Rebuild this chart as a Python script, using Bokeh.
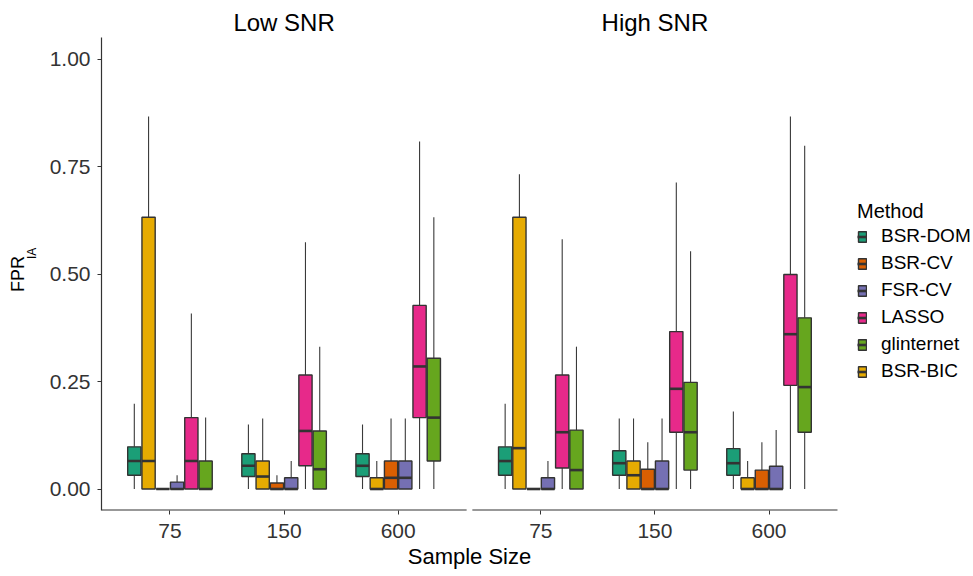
from bokeh.plotting import figure
from bokeh.models import (ColumnDataSource, Range1d, FixedTicker, LinearAxis, Legend, LegendItem)
from bokeh.embed import file_html
from bokeh.resources import INLINE

# ---------------- data ----------------
panels = ["Low SNR", "High SNR"]
sample_sizes = ["75", "150", "600"]
methods = ["BSR-DOM", "BSR-BIC", "BSR-CV", "FSR-CV", "LASSO", "glinternet"]
legend_order = ["BSR-DOM", "BSR-CV", "FSR-CV", "LASSO", "glinternet", "BSR-BIC"]
method_colors = ["#1B9E77", "#E6AB02", "#D95F02", "#7570B3", "#E7298A", "#66A61E"]

# rows: sample size 75 / 150 / 600 ; columns: methods in the order above
low_lower = [[0, 0, 0, 0, 0, 0], [0, 0, 0, 0, 0, 0], [0, 0, 0, 0, 0, 0]]
low_q1 = [[0.032, 0, 0, 0, 0, 0], [0.029, 0, 0, 0, 0.054, 0], [0.029, 0, 0, 0, 0.166, 0.065]]
low_median = [[0.065, 0.065, 0, 0, 0.065, 0], [0.054, 0.029, 0, 0, 0.135, 0.046], [0.054, 0, 0.026, 0.026, 0.285, 0.166]]
low_q3 = [[0.098, 0.632, 0, 0.016, 0.166, 0.065], [0.082, 0.065, 0.014, 0.026, 0.265, 0.135], [0.082, 0.026, 0.065, 0.065, 0.427, 0.304]]
low_upper = [[0.198, 0.866, 0, 0.032, 0.408, 0.166], [0.150, 0.164, 0.032, 0.065, 0.574, 0.331], [0.150, 0.065, 0.164, 0.164, 0.808, 0.632]]

high_lower = [[0, 0, 0, 0, 0, 0], [0, 0, 0, 0, 0, 0], [0, 0, 0, 0, 0, 0]]
high_q1 = [[0.032, 0, 0, 0, 0.049, 0], [0.032, 0, 0, 0, 0.132, 0.044], [0.032, 0, 0, 0, 0.241, 0.132]]
high_median = [[0.065, 0.095, 0, 0, 0.132, 0.044], [0.060, 0.032, 0, 0, 0.233, 0.132], [0.060, 0, 0, 0, 0.360, 0.237]]
high_q3 = [[0.098, 0.632, 0, 0.026, 0.265, 0.137], [0.089, 0.065, 0.046, 0.065, 0.366, 0.248], [0.094, 0.026, 0.044, 0.053, 0.499, 0.398]]
high_upper = [[0.198, 0.732, 0, 0.065, 0.581, 0.331], [0.164, 0.164, 0.109, 0.164, 0.713, 0.553], [0.180, 0.065, 0.109, 0.137, 0.866, 0.798]]

y_ticks = [0.0, 0.25, 0.5, 0.75, 1.0]
y_tick_labels = ["0.00", "0.25", "0.50", "0.75", "1.00"]
y_title = "FPR"
y_title_sub = "IA"
x_title = "Sample Size"
legend_title = "Method"

# ---------------- layout constants ----------------
FONT = "Liberation Sans"
DODGE = 0.125
BOX_W = 0.116
PANEL_SPAN = 3.2
PANEL_GAP = 0.05
PANEL_OFFSET = PANEL_SPAN + PANEL_GAP
X_START = 0.4
X_END = X_START + PANEL_SPAN + PANEL_GAP + PANEL_SPAN
LEGEND_SPACE = 1.192          # extra room on the right of the panels for the legend
Y_START, Y_END = -0.05, 1.05
FPR_POS = 0.500   # vertical centre of the "FPR" title
IA_POS = 0.548    # vertical centre of the subscript

stats = {
    0: (low_lower, low_q1, low_median, low_q3, low_upper),
    1: (high_lower, high_q1, high_median, high_q3, high_upper),
}

data = dict(x=[], lower=[], q1=[], median=[], q3=[], upper=[], color=[], method=[])
for pi in range(len(panels)):
    lo, a, m, b, hi = stats[pi]
    for si in range(len(sample_sizes)):
        for mi, meth in enumerate(methods):
            data["x"].append(si + 1 + pi * PANEL_OFFSET + (mi - 2.5) * DODGE)
            data["lower"].append(lo[si][mi])
            data["q1"].append(a[si][mi])
            data["median"].append(m[si][mi])
            data["q3"].append(b[si][mi])
            data["upper"].append(hi[si][mi])
            data["color"].append(method_colors[mi])
            data["method"].append(meth)
data["xl"] = [x - BOX_W / 2 for x in data["x"]]
data["xr"] = [x + BOX_W / 2 for x in data["x"]]
src = ColumnDataSource(data)

p = figure(width=973, height=576,
           x_range=Range1d(X_START, X_END + LEGEND_SPACE), y_range=Range1d(Y_START, Y_END),
           output_backend="svg", toolbar_location=None,
           min_border_left=101, min_border_right=0, min_border_top=37, min_border_bottom=66)
p.outline_line_color = None
p.xgrid.visible = False
p.ygrid.visible = False
p.background_fill_color = "white"
p.border_fill_color = "white"

# whiskers
p.segment(x0="x", x1="x", y0="q3", y1="upper", source=src, line_color="#3a3a3a", line_width=1.1)
p.segment(x0="x", x1="x", y0="lower", y1="q1", source=src, line_color="#3a3a3a", line_width=1.1)
# boxes
boxes = p.vbar(x="x", width=BOX_W, bottom="q1", top="q3", source=src,
               fill_color="color", line_color="#333333", line_width=1.4)
# medians
meds = p.segment(x0="xl", x1="xr", y0="median", y1="median", source=src,
                 line_color="#333333", line_width=2.6)

# bottom axis lines (one per panel, with a small gap between panels)
p.segment(x0=[X_START, X_START + PANEL_OFFSET], x1=[X_START + PANEL_SPAN, X_END],
          y0=[Y_START, Y_START], y1=[Y_START, Y_START], line_color="#333333", line_width=2)

# ---- bottom axis ----
xticks = [si + 1 + pi * PANEL_OFFSET for pi in range(len(panels)) for si in range(len(sample_sizes))]
p.xaxis.ticker = FixedTicker(ticks=xticks, minor_ticks=[])
p.xaxis.major_label_overrides = {t: sample_sizes[i % 3] for i, t in enumerate(xticks)}
p.xaxis.axis_line_color = None
p.xaxis.major_tick_in = 0
p.xaxis.major_tick_out = 4
p.xaxis.major_tick_line_color = "#333333"
p.xaxis.major_label_standoff = 9
p.xaxis.major_label_text_font = FONT
p.xaxis.major_label_text_font_size = "21px"
p.xaxis.major_label_text_color = "#333333"

# x title, centred under both panels
x_mid = (X_START + X_END) / 2
xtitle_axis = LinearAxis(ticker=FixedTicker(ticks=[x_mid], minor_ticks=[]),
                         major_label_overrides={x_mid: x_title},
                         axis_line_color=None, major_tick_line_color=None,
                         major_tick_in=0, major_tick_out=0, minor_tick_line_color=None,
                         major_label_standoff=3,
                         major_label_text_font=FONT, major_label_text_font_size="22px",
                         major_label_text_color="black")
p.add_layout(xtitle_axis, "below")

# ---- panel titles as a top axis ----
ptick = [2 + pi * PANEL_OFFSET for pi in range(len(panels))]
top_axis = LinearAxis(ticker=FixedTicker(ticks=ptick, minor_ticks=[]),
                      major_label_overrides={t: n for t, n in zip(ptick, panels)},
                      axis_line_color=None, major_tick_line_color=None,
                      major_tick_in=0, major_tick_out=0, minor_tick_line_color=None,
                      major_label_standoff=2,
                      major_label_text_font=FONT, major_label_text_font_size="24px",
                      major_label_text_color="black")
p.add_layout(top_axis, "above")

# ---- left axis ----
p.yaxis.ticker = FixedTicker(ticks=y_ticks, minor_ticks=[])
p.yaxis.major_label_overrides = {t: l for t, l in zip(y_ticks, y_tick_labels)}
p.yaxis.axis_line_color = "#333333"
p.yaxis.axis_line_width = 1.2
p.yaxis.major_tick_in = 0
p.yaxis.major_tick_out = 4
p.yaxis.major_tick_line_color = "#333333"
p.yaxis.major_label_standoff = 7
p.yaxis.major_label_text_font = FONT
p.yaxis.major_label_text_font_size = "21px"
p.yaxis.major_label_text_color = "#333333"

# y title "FPR" with subscript "IA", as two label-only axes
sub_axis = LinearAxis(ticker=FixedTicker(ticks=[IA_POS], minor_ticks=[]),
                      major_label_overrides={IA_POS: y_title_sub},
                      major_label_orientation="parallel",
                      axis_line_color=None, major_tick_line_color=None,
                      major_tick_in=0, major_tick_out=0, minor_tick_line_color=None,
                      major_label_standoff=7,
                      major_label_text_font=FONT, major_label_text_font_size="12px",
                      major_label_text_color="black")
p.add_layout(sub_axis, "left")
main_title_axis = LinearAxis(ticker=FixedTicker(ticks=[FPR_POS], minor_ticks=[]),
                             major_label_overrides={FPR_POS: y_title},
                             major_label_orientation="parallel",
                             axis_line_color=None, major_tick_line_color=None,
                             major_tick_in=0, major_tick_out=0, minor_tick_line_color=None,
                             major_label_standoff=-5,
                             major_label_text_font=FONT, major_label_text_font_size="18px",
                             major_label_text_color="black")
p.add_layout(main_title_axis, "left")

# ---- legend (uses the real box and median renderers) ----
items = []
for meth in legend_order:
    idx = methods.index(meth)
    items.append(LegendItem(label=meth, renderers=[boxes, meds], index=idx))
legend = Legend(items=items, title=legend_title, location=(756, 128))
legend.title_text_font = FONT
legend.title_text_font_size = "20px"
legend.title_text_font_style = "normal"
legend.title_text_color = "black"
legend.title_standoff = 2
legend.label_text_font = FONT
legend.label_text_font_size = "19px"
legend.label_text_color = "black"
legend.label_standoff = 14
legend.glyph_width = 10
legend.glyph_height = 13
legend.label_height = 20
legend.spacing = 5
legend.padding = 0
legend.margin = 0
legend.border_line_color = None
legend.background_fill_alpha = 0
p.add_layout(legend)

open("out.html", "w").write(file_html(p, INLINE))
